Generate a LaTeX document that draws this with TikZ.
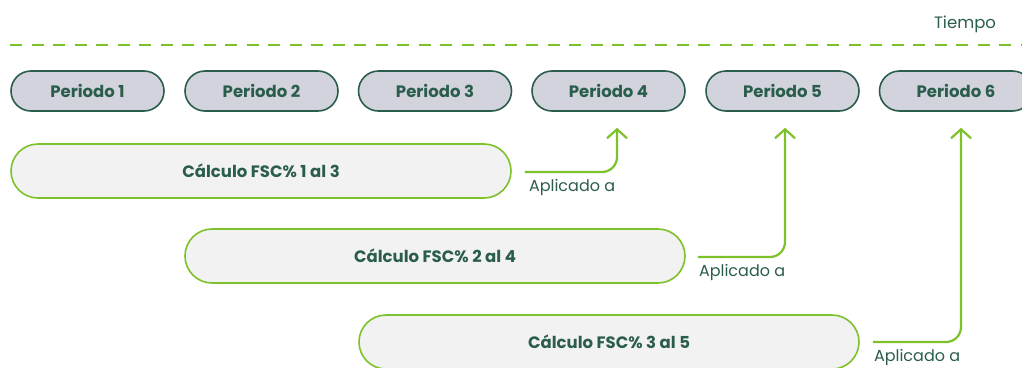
\documentclass[tikz,border=0pt]{standalone}
\usepackage{fontspec}
\setmainfont{Poppins}
\usetikzlibrary{arrows.meta,calc}
\definecolor{dgreen}{HTML}{2B5D4C}
\definecolor{lgreen}{HTML}{7DC12B}
\definecolor{pgrey}{HTML}{D2D3DC}
\definecolor{cgrey}{HTML}{F2F2F2}
\tikzset{
  periodbox/.style={draw=dgreen, line width=1.6pt, fill=pgrey, rounded corners=20pt,
    minimum width=153pt, minimum height=40pt, inner sep=0pt, text=dgreen,
    font=\fontsize{16.5}{19}\selectfont\bfseries},
  calcbox/.style={draw=lgreen, line width=1.6pt, fill=cgrey, rounded corners=27pt,
    minimum width=500pt, minimum height=54pt, inner sep=0pt, text=dgreen,
    font=\fontsize{16.5}{19}\selectfont\bfseries},
  applink/.style={draw=lgreen, line width=2.2pt, rounded corners=15pt,
    -{Straight Barb[length=9pt,width=20pt,line width=2.2pt]}},
  applabel/.style={anchor=north west, inner sep=0pt, text=dgreen,
    font=\fontsize{16}{19}\selectfont},
}
\begin{document}
\begin{tikzpicture}[x=1pt,y=-1pt]
\useasboundingbox (0,0) rectangle (1022,367);
\clip (0,0) rectangle (1022,367);
% time axis
\coordinate (tstart) at (10,45);
\coordinate (tend) at (1032,45);
\draw[lgreen, line width=2.2pt, dash pattern=on 12pt off 9.5pt,
  -{Straight Barb[length=8pt,width=20pt,line width=2.2pt]}] (tstart) -- (tend);
\node[text=dgreen, font=\fontsize{16.5}{19}\selectfont, anchor=base] (tiempo) at (965,28) {Tiempo};
% periods
\foreach \i/\x in {1/87.5,2/261.5,3/435,4/608.5,5/782.5,6/956}{
  \node[periodbox] (p\i) at (\x,91) {Periodo \i};
}
% calculations
\node[calcbox] (c1) at (261,171) {Cálculo FSC\% 1 al 3};
\node[calcbox] (c2) at (435,256) {Cálculo FSC\% 2 al 4};
\node[calcbox] (c3) at (609,342) {Cálculo FSC\% 3 al 5};
% links
\draw[applink] ([xshift=13pt,yshift=-1pt]c1.east) coordinate (s1) -| ([xshift=8.5pt,yshift=-16pt]p4.south);
\draw[applink] ([xshift=12pt,yshift=-1pt]c2.east) coordinate (s2) -| ([xshift=2.5pt,yshift=-16pt]p5.south);
\draw[applink] ([xshift=13pt,yshift=0pt]c3.east) coordinate (s3) -| ([xshift=5pt,yshift=-16pt]p6.south);
\node[applabel] (a1) at ([xshift=4pt,yshift=-7pt]s1) {Aplicado a};
\node[applabel] (a2) at ([xshift=1pt,yshift=-7pt]s2) {Aplicado a};
\node[applabel] (a3) at ([xshift=1pt,yshift=-7pt]s3) {Aplicado a};
\end{tikzpicture}
\end{document}
